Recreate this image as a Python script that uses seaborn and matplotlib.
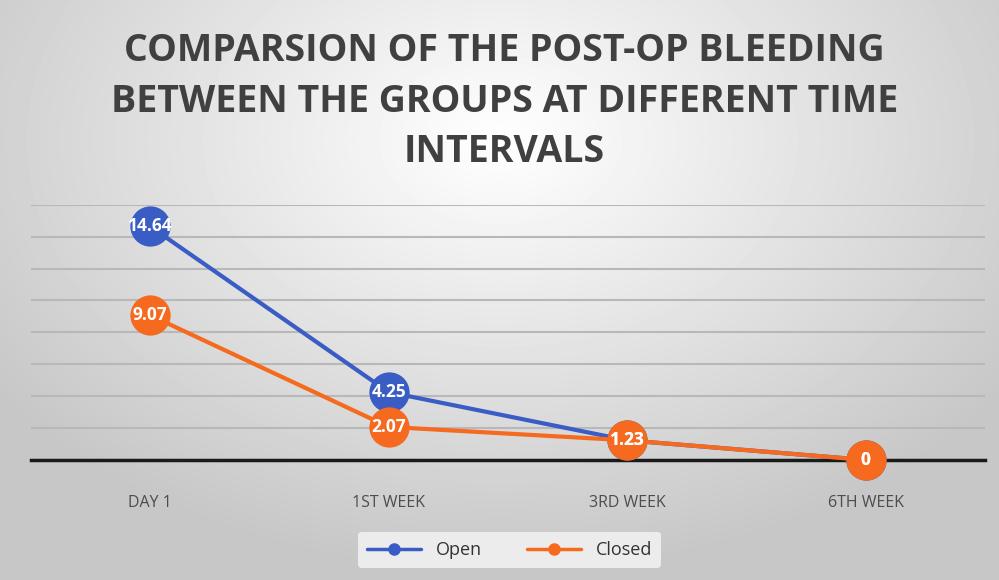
import numpy as np
import pandas as pd
import matplotlib
matplotlib.use("Agg")
import matplotlib.pyplot as plt
import seaborn as sns
from matplotlib.lines import Line2D

# data
periods = ["DAY 1", "1ST WEEK", "3RD WEEK", "6TH WEEK"]
open_vals = [14.64, 4.25, 1.23, 0]
closed_vals = [9.07, 2.07, 1.23, 0]
groups = ["Open", "Closed"]
colors = {"Open": "#3A5CC5", "Closed": "#F56A1F"}

df = pd.DataFrame({
    "Period": periods * 2,
    "x": list(range(len(periods))) * 2,
    "Bleeding": open_vals + closed_vals,
    "Group": ["Open"] * len(periods) + ["Closed"] * len(periods),
})

sns.set_theme(style="white")
plt.rcParams["font.family"] = ["Open Sans", "DejaVu Sans"]

fig = plt.figure(figsize=(9.99, 5.8), dpi=100)

# radial grey background like the office chart style
bg = fig.add_axes([0, 0, 1, 1], zorder=-10)
yy, xx = np.mgrid[0:580, 0:999]
d = np.sqrt(((xx - 500) / 620.0) ** 2 + ((yy - 140) / 430.0) ** 2)
shade = 1.0 - 0.22 * np.clip(d, 0, 1)
bg.imshow(shade, cmap="gray", vmin=0, vmax=1, aspect="auto", extent=[0, 1, 0, 1])
bg.axis("off")

ax = fig.add_axes([0.031, 0.207, 0.955, 0.44])
ax.set_facecolor("none")

sns.lineplot(data=df, x="x", y="Bleeding", hue="Group", hue_order=groups,
             palette=colors, marker="o", markersize=29, linewidth=3,
             markeredgewidth=0, legend=False, ax=ax, zorder=3)
for ln in ax.lines:
    ln.set_clip_on(False)

for g, vals in zip(groups, [open_vals, closed_vals]):
    for i, v in enumerate(vals):
        ax.text(i, v, f"{v:g}", ha="center", va="center", color="white",
                fontsize=12.5, fontweight="bold", zorder=5)

ax.set_xlim(-0.5, 3.5)
ax.set_ylim(0, 16)
ax.set_yticks(np.arange(0, 17, 2))
ax.yaxis.grid(True, color="#b8b8b8", linewidth=1.5)
ax.set_yticklabels([])
ax.tick_params(axis="y", length=0)
ax.set_xticks(range(len(periods)))
ax.set_xticklabels(periods, color="#4d4d4d", fontsize=11.5)
ax.tick_params(axis="x", length=0, pad=25)
ax.set_xlabel("")
ax.set_ylabel("")
for s in ["top", "right", "left"]:
    ax.spines[s].set_visible(False)
ax.spines["bottom"].set_color("#1a1a1a")
ax.spines["bottom"].set_linewidth(2.5)
ax.spines["bottom"].set_zorder(2)

fig.text(0.505, 0.825, "COMPARSION OF THE POST-OP BLEEDING\nBETWEEN THE GROUPS AT DIFFERENT TIME\nINTERVALS",
         ha="center", va="center", fontsize=27, fontweight="bold",
         color="#404040", linespacing=1.42)

handles = [Line2D([0], [0], color=colors[g], marker="o", markersize=8,
                  linewidth=2.5, label=g) for g in groups]
leg = fig.legend(handles=handles, loc="center", bbox_to_anchor=(0.51, 0.052),
                 ncol=2, frameon=True, fontsize=13, handlelength=3,
                 columnspacing=2.5, borderpad=0.5)
leg.get_frame().set_facecolor("#ececec")
leg.get_frame().set_edgecolor("none")
leg.get_frame().set_alpha(1)
for t in leg.get_texts():
    t.set_color("#333333")

fig.savefig("out.png", dpi=100)
